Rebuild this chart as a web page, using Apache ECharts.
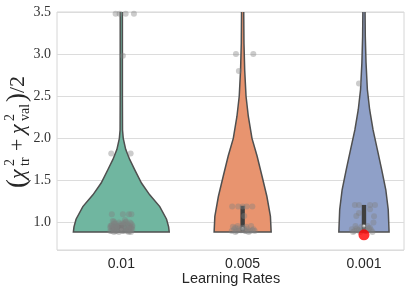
<!DOCTYPE html>
<html>
<head>
<meta charset="utf-8">
<script src="https://cdn.jsdelivr.net/npm/echarts@6/dist/echarts.min.js"></script>
<style>html,body{margin:0;padding:0;background:#fff}#c{width:411px;height:296px}</style>
</head>
<body>
<div id="c"></div>
<script>
// ---- data ----
const categories = ['0.01', '0.005', '0.001'];
const xAxisTitle = 'Learning Rates';

// violin density profiles: y levels and half-widths (in category units)
const levels01 = [0.89, 0.95, 1.04, 1.19, 1.33, 1.47, 1.63, 1.75, 1.87, 2.0, 2.1, 2.5, 3.0, 3.5];
const widths01 = [0.395, 0.39, 0.373, 0.317, 0.234, 0.166, 0.110, 0.069, 0.036, 0.016, 0.010, 0.009, 0.009, 0.009];
const levels005 = [0.89, 1.075, 1.31, 1.55, 1.79, 2.0, 2.26, 2.5, 2.81, 3.13, 3.5];
const widths005 = [0.235, 0.229, 0.20, 0.16, 0.119, 0.077, 0.047, 0.028, 0.017, 0.011, 0.009];
const levels001 = [0.89, 1.155, 1.39, 1.63, 1.87, 2.1, 2.34, 2.58, 2.9, 3.21, 3.5];
const widths001 = [0.207, 0.20, 0.18, 0.146, 0.11, 0.075, 0.047, 0.028, 0.017, 0.011, 0.009];

// inner box (quartiles, median)
const boxQ1 = [0.90, 0.90, 0.90];
const boxQ3 = [0.97, 1.20, 1.21];
const boxMedian = [0.92, 0.93, 0.96];

// strip points: values and jitter offsets
const pts01Values = [3.48, 3.48, 3.48, 3.48, 2.98, 1.82, 1.82, 1.10, 1.10, 1.10, 1.10,
  0.90, 0.92, 0.90, 0.94, 0.91, 0.90, 0.93, 0.91, 0.90, 0.92,
  0.96, 0.99, 0.97, 1.00, 0.96, 0.98, 1.01, 0.97, 0.99, 0.95,
  0.94, 0.93, 0.93, 0.95, 0.94, 1.02, 1.03, 0.89, 0.89, 0.89,
  0.90, 0.91, 0.92, 0.90, 0.91, 0.89, 0.92, 0.90, 0.91, 0.90,
  0.94, 0.95, 0.96, 0.97, 0.98, 0.95, 0.96, 0.97, 0.99, 1.00,
  0.93, 0.94, 0.92, 0.95, 0.97, 0.98, 1.01, 1.00, 0.99, 0.93];
const pts01Jitter = [-0.047, -0.014, 0.036, 0.104, 0.013, -0.083, 0.077, -0.078, 0.013, 0.063, 0.083,
  -0.09, -0.07, -0.05, -0.03, -0.01, 0.01, 0.03, 0.05, 0.07, 0.09,
  -0.08, -0.06, -0.04, -0.02, 0.00, 0.02, 0.04, 0.06, 0.08, 0.09,
  -0.09, -0.05, 0.00, 0.04, 0.08, -0.07, 0.03, -0.02, 0.06, -0.06,
  -0.08, -0.06, -0.02, 0.02, 0.04, 0.08, 0.06, -0.04, 0.00, 0.05,
  -0.07, -0.03, -0.09, 0.01, 0.05, 0.07, -0.01, 0.09, -0.05, 0.03,
  0.02, -0.06, 0.08, -0.04, -0.08, -0.01, -0.06, 0.07, 0.01, 0.06];
const pts005Values = [3.0, 3.0, 2.8, 1.19, 1.19, 1.19, 1.19, 1.19, 1.08,
  0.90, 0.92, 0.90, 0.93, 0.91, 0.90, 0.92, 0.90, 0.91, 0.90, 0.95, 0.96, 0.94, 0.95, 0.96, 0.89, 0.89,
  0.91, 0.93, 0.90, 0.92, 0.94];
const pts005Jitter = [-0.055, 0.088, -0.031, -0.086, -0.036, 0.0, 0.033, 0.08, 0.013,
  -0.09, -0.07, -0.05, -0.03, -0.01, 0.02, 0.04, 0.06, 0.08, 0.10, -0.08, -0.04, 0.0, 0.03, 0.07, -0.06, 0.05,
  -0.02, 0.01, 0.03, 0.09, -0.06];
const pts001Values = [2.65, 1.21, 1.21, 1.21, 1.21, 1.16, 1.115, 1.08, 1.075, 1.0,
  0.92, 0.90, 0.93, 0.91, 0.95, 0.92, 0.90, 0.93, 0.91, 0.96, 0.89, 0.96, 0.89, 0.89,
  0.91, 0.94, 0.90];
const pts001Jitter = [-0.041, -0.075, -0.041, 0.05, 0.091, 0.05, -0.041, -0.063, 0.083, 0.078,
  -0.10, -0.08, -0.06, -0.04, -0.02, 0.0, 0.02, 0.04, 0.06, -0.07, -0.03, 0.03, 0.07, -0.09,
  -0.05, 0.05, 0.01];
const highlightCategory = [2];
const highlightValue = [0.855];

// ---- build ----
const violinLevels = [levels01, levels005, levels001];
const violinWidths = [widths01, widths005, widths001];
const violinFill = ['#70b6a0', '#e8946f', '#8fa0c8'];
const ptsValues = [pts01Values, pts005Values, pts001Values];
const ptsJitter = [pts01Jitter, pts005Jitter, pts001Jitter];

const stripData = [];
ptsValues.forEach((vals, c) => vals.forEach((v, i) => stripData.push([c + ptsJitter[c][i], v])));
const redData = highlightCategory.map((c, i) => [c, highlightValue[i]]);

const chart = echarts.init(document.getElementById('c'), null, {renderer: 'canvas'});

const ink = '#262626';
const option = {
  animation: false,
  backgroundColor: '#ffffff',
  grid: {left: 57, right: 7, top: 12, bottom: 46, show: true, borderColor: '#d6d6d6', borderWidth: 1, backgroundColor: '#ffffff'},
  xAxis: {
    type: 'value', min: -0.53, max: 2.33,
    axisLine: {show: false}, axisTick: {show: false}, splitLine: {show: false},
    axisLabel: {
      customValues: [0, 1, 2],
      formatter: function (v) {
        const r = Math.round(v);
        return (Math.abs(v - r) < 1e-6 && r >= 0 && r < categories.length) ? categories[r] : '';
      },
      fontFamily: 'Liberation Sans', fontSize: 14, color: ink, margin: 7
    }
  },
  yAxis: {
    type: 'value', min: 0.675, max: 3.5, splitNumber: 5,
    axisLine: {show: false}, axisTick: {show: false},
    splitLine: {lineStyle: {color: '#dcdcdc', width: 1}},
    axisLabel: {showMinLabel: false, fontFamily: 'Liberation Serif', fontSize: 14, color: '#333333', margin: 6,
      formatter: v => v.toFixed(1)}
  },
  series: [
    {
      type: 'custom', z: 2,
      data: categories.map((c, i) => [i, 1]),
      renderItem: function (params, api) {
        const idx = params.dataIndex;
        const lv = violinLevels[idx], w = violinWidths[idx];
        const pts = [];
        for (let i = lv.length - 1; i >= 0; i--) pts.push(api.coord([idx - w[i], lv[i]]));
        for (let i = 0; i < lv.length; i++) pts.push(api.coord([idx + w[i], lv[i]]));
        return {
          type: 'group',
          children: [
            {type: 'polygon', shape: {points: pts}, style: {fill: violinFill[idx], stroke: null}},
            {type: 'polyline', shape: {points: pts}, style: {fill: null, stroke: '#4f4f4f', lineWidth: 1.5}}
          ]
        };
      }
    },
    {
      type: 'custom', z: 3,
      data: categories.map((c, i) => [i, boxMedian[i]]),
      renderItem: function (params, api) {
        const idx = params.dataIndex;
        const top = api.coord([idx, boxQ3[idx]]);
        const bot = api.coord([idx, boxQ1[idx]]);
        const med = api.coord([idx, boxMedian[idx]]);
        return {
          type: 'group',
          children: [
            {type: 'rect', shape: {x: top[0] - 2.2, y: top[1], width: 4.4, height: bot[1] - top[1]}, style: {fill: '#3f3f3f'}},
            {type: 'circle', shape: {cx: med[0], cy: med[1], r: 1.6}, style: {fill: '#ffffff'}}
          ]
        };
      }
    },
    {
      type: 'scatter', z: 4, data: stripData, symbolSize: 6,
      itemStyle: {color: 'rgba(128,128,128,0.5)'}, silent: true
    },
    {
      type: 'scatter', z: 5, data: redData, symbolSize: 11,
      itemStyle: {color: '#ff0000'}, silent: true
    }
  ],
  graphic: [
    {
      type: 'text', x: 231, y: 279,
      style: {text: xAxisTitle, font: '14.5px "Liberation Sans"', fill: ink, align: 'center', verticalAlign: 'middle'}
    },
    {
      type: 'group', x: 18, y: 131, rotation: Math.PI / 2,
      children: [
        {type: 'text', x: -57, y: 0, style: {text: '(', font: '27px "Liberation Serif"', fill: ink, verticalAlign: 'middle'}},
        {type: 'text', x: -48, y: 0, style: {text: 'χ', font: 'italic 22px "Liberation Serif"', fill: ink, verticalAlign: 'middle'}},
        {type: 'text', x: -35, y: -8, style: {text: '2', font: '14px "Liberation Serif"', fill: ink, verticalAlign: 'middle'}},
        {type: 'text', x: -35, y: 7, style: {text: 'tr', font: '14px "Liberation Serif"', fill: ink, verticalAlign: 'middle'}},
        {type: 'text', x: -20, y: 0, style: {text: '+', font: '22px "Liberation Serif"', fill: ink, verticalAlign: 'middle'}},
        {type: 'text', x: -3, y: 0, style: {text: 'χ', font: 'italic 22px "Liberation Serif"', fill: ink, verticalAlign: 'middle'}},
        {type: 'text', x: 10, y: -8, style: {text: '2', font: '14px "Liberation Serif"', fill: ink, verticalAlign: 'middle'}},
        {type: 'text', x: 10, y: 7, style: {text: 'val', font: '14px "Liberation Serif"', fill: ink, verticalAlign: 'middle'}},
        {type: 'text', x: 29, y: 0, style: {text: ')', font: '27px "Liberation Serif"', fill: ink, verticalAlign: 'middle'}},
        {type: 'text', x: 38, y: 0, style: {text: '/2', font: '22px "Liberation Serif"', fill: ink, verticalAlign: 'middle'}}
      ]
    }
  ]
};
chart.setOption(option);
</script>
</body>
</html>
